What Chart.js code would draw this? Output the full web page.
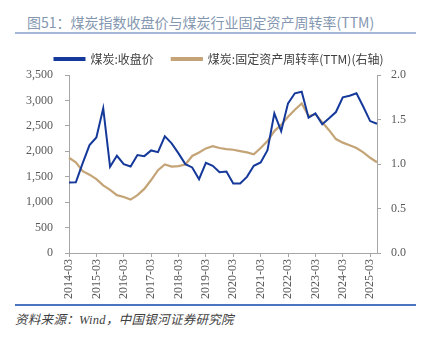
<!DOCTYPE html>
<html><head><meta charset="utf-8">
<script src="https://cdn.jsdelivr.net/npm/chart.js@4"></script>
<style>
html,body{margin:0;padding:0;background:#fff;}
body{width:424px;height:338px;position:relative;overflow:hidden;}
#title{position:absolute;left:27px;top:12px;font-family:"Noto Sans CJK SC",sans-serif;font-size:14px;color:#8497B0;line-height:20px;white-space:nowrap;}
#tline{position:absolute;left:15px;top:32px;width:401px;height:2px;background:#A5B6D8;}
#wrap{position:absolute;left:0;top:35px;width:424px;height:267px;}
#bline{position:absolute;left:15px;top:304px;width:401px;height:2px;background:#4A74C0;}
#src{position:absolute;left:15px;top:312px;font-family:"Liberation Serif","Noto Sans CJK SC",serif;font-style:italic;font-size:12.5px;letter-spacing:0.3px;color:#404040;white-space:nowrap;line-height:16px;}
</style></head>
<body>
<div id="title">图51：煤炭指数收盘价与煤炭行业固定资产周转率(TTM)</div>
<div id="tline"></div>
<div id="wrap"><canvas id="c" width="424" height="267"></canvas></div>
<div id="bline"></div>
<div id="src">资料来源：Wind，中国银河证券研究院</div>
<script>
const years = [2014,2015,2016,2017,2018,2019,2020,2021,2022,2023,2024,2025];
const months = ["03","06","09","12"];
const categories = [];
years.forEach(y => months.forEach(m => { if (!(y === 2025 && (m === "09" || m === "12"))) categories.push(y + "-" + m); }));

const closePrice = [1387,1390,1767,2122,2273,2845,1694,1911,1747,1702,1925,1905,2017,1984,2293,2155,1958,1747,1682,1452,1773,1714,1590,1603,1367,1367,1497,1714,1781,2023,2746,2397,2943,3140,3170,2660,2746,2530,2648,2772,3061,3093,3140,2876,2594,2541];
const turnover = [1.07,1.02,0.92,0.88,0.83,0.76,0.71,0.65,0.63,0.60,0.65,0.72,0.82,0.93,0.995,0.97,0.976,0.995,1.09,1.13,1.175,1.20,1.18,1.167,1.16,1.145,1.13,1.11,1.18,1.257,1.37,1.44,1.53,1.61,1.68,1.54,1.56,1.47,1.38,1.28,1.24,1.21,1.18,1.13,1.07,1.02];

const seriesNames = ["煤炭:收盘价", "煤炭:固定资产周转率(TTM)(右轴)"];
const leftTicks = [0,500,1000,1500,2000,2500,3000,3500];
const rightTicks = [0,0.5,1.0,1.5,2.0];

const axisGray = "#A6A6A6";
const tickFont = {family: "Liberation Serif", size: 12};

const legendShift = {
  id: "legendShift",
  afterLayout(chart) {
    if (chart.legend) { chart.legend.left += 7; chart.legend.right += 7; }
  }
};

new Chart(document.getElementById("c"), {
  type: "line",
  data: {
    labels: categories,
    datasets: [
      {label: seriesNames[0], data: closePrice, yAxisID: "y", borderColor: "#15399A", backgroundColor: "#15399A", borderWidth: 2, pointRadius: 0, tension: 0},
      {label: seriesNames[1], data: turnover, yAxisID: "y1", borderColor: "#C4A476", backgroundColor: "#C4A476", borderWidth: 2.2, pointRadius: 0, tension: 0}
    ]
  },
  options: {
    responsive: false,
    animation: false,
    layout: {padding: 0},
    plugins: {
      legend: {
        display: true,
        position: "top",
        labels: {
          boxWidth: 30, boxHeight: 2, padding: 18,
          color: "#404040",
          font: {family: "Noto Sans CJK SC", size: 12}
        }
      },
      tooltip: {enabled: false}
    },
    scales: {
      x: {
        type: "category",
        offset: false,
        grid: {display: true, drawOnChartArea: false, drawTicks: true, tickLength: 4, color: axisGray},
        border: {display: true, color: axisGray, width: 1},
        ticks: {autoSkip: false, maxRotation: 90, minRotation: 90, padding: 2, color: "#595959", font: tickFont},
        afterBuildTicks: axis => { axis.ticks = axis.ticks.filter((t, i) => i % 4 === 0); },
        afterFit: axis => { axis.height = 49; }
      },
      y: {
        position: "left",
        min: 0, max: 3500,
        grid: {display: true, drawOnChartArea: false, drawTicks: true, tickLength: 4, color: axisGray},
        border: {display: true, color: axisGray, width: 1},
        afterBuildTicks: axis => { axis.ticks = leftTicks.map(v => ({value: v})); },
        ticks: {padding: 12, color: "#595959", font: tickFont, callback: v => v.toLocaleString("en-US")},
        afterFit: axis => { axis.width = 69; }
      },
      y1: {
        position: "right",
        min: 0, max: 2,
        grid: {display: true, drawOnChartArea: false, drawTicks: true, tickLength: 4, color: axisGray},
        border: {display: true, color: axisGray, width: 1},
        afterBuildTicks: axis => { axis.ticks = rightTicks.map(v => ({value: v})); },
        ticks: {padding: 10, color: "#595959", font: tickFont, callback: v => v.toFixed(1)},
        afterFit: axis => { axis.width = 47; }
      }
    }
  },
  plugins: [legendShift]
});
</script>
</body></html>
